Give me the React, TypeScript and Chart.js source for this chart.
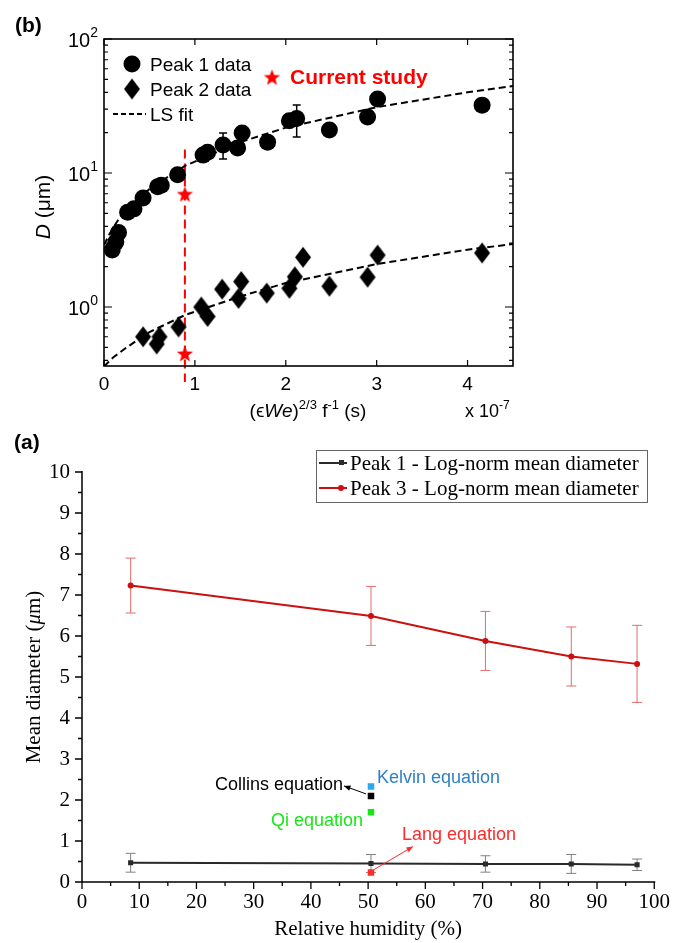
import React, { useEffect, useRef } from 'react';
import { Chart, registerables } from 'chart.js';
Chart.register(...registerables);

// ---------- Panel (b) data ----------
const peak1X = [0.09, 0.13, 0.16, 0.26, 0.33, 0.43, 0.59, 0.63, 0.81, 1.09, 1.14, 1.31, 1.47, 1.52, 1.80, 2.04, 2.12, 2.48, 2.90, 3.01, 4.16];
const peak1D = [2.66, 3.05, 3.6, 5.1, 5.4, 6.5, 7.9, 8.1, 9.7, 13.6, 14.3, 16.2, 15.4, 19.9, 17.0, 24.5, 25.5, 20.9, 26.2, 35.7, 32.1];
const peak1ErrX = [1.31, 2.12];
const peak1ErrLow = [12.7, 18.6];
const peak1ErrHigh = [19.9, 32.2];

const peak2X = [0.43, 0.58, 0.61, 0.82, 1.07, 1.14, 1.30, 1.48, 1.51, 1.79, 2.04, 2.10, 2.19, 2.48, 2.90, 3.01, 4.16];
const peak2D = [0.60, 0.53, 0.60, 0.71, 1.0, 0.85, 1.36, 1.16, 1.55, 1.27, 1.38, 1.68, 2.35, 1.43, 1.67, 2.44, 2.53];

const fit1X = [0, 0.05, 0.1, 0.15, 0.25, 0.5, 0.89, 1.5, 2.0, 3.0, 4.0, 4.5];
const fit1D = [2.9, 3.4, 3.9, 4.4, 5.3, 7.6, 11.3, 17.0, 21.8, 31.0, 40.0, 44.6];
const fit2X = [0, 0.1, 0.25, 0.5, 0.89, 1.5, 2.0, 3.0, 4.0, 4.5];
const fit2D = [0.36, 0.42, 0.5, 0.65, 0.87, 1.2, 1.51, 2.09, 2.68, 2.95];

const studyX = [0.89, 0.89];
const studyD = [7.0, 0.45];
const studyLineX = 0.89;
const studyLineTop = 15;

const xTicksB = [0, 1, 2, 3, 4];
const yMajorB = [1, 10, 100];
const yExpB: Record<number, string> = { 1: '0', 10: '1', 100: '2' };
const logMantissas = [2, 3, 4, 5, 6, 7, 8, 9];
const logDecades = [0.1, 1, 10];

// ---------- Panel (a) data ----------
const rh = [8.5, 50.5, 70.5, 85.5, 97];
const peak1Mean = [0.47, 0.45, 0.44, 0.44, 0.42];
const peak1Err = [0.23, 0.22, 0.2, 0.23, 0.14];
const peak3Mean = [7.23, 6.49, 5.88, 5.5, 5.32];
const peak3Err = [0.67, 0.72, 0.72, 0.72, 0.94];

const eqNames = ['Kelvin equation', 'Collins equation', 'Qi equation', 'Lang equation'];
const eqRH = [50.5, 50.5, 50.5, 50.5];
const eqD = [2.33, 2.1, 1.7, 0.23];

const legendA = ['Peak 1 - Log-norm mean diameter', 'Peak 3 - Log-norm mean diameter'];

// ---------- styles ----------
const SANS = "'Liberation Sans', Arial, 'DejaVu Sans', sans-serif";
const SERIF = "'Liberation Serif', 'Times New Roman', serif";
const eqMarkerColors = ['#2ea6f0', '#000000', '#19e619', '#ff2a2a'];
const eqTextColors = ['#2f7fc4', '#000000', '#19e619', '#ff2a2a'];
const BLACK_LINE = '#2a2a2a';
const RED_LINE = '#cc1010';

type Seg = { t: string; size: number; italic?: boolean; bold?: boolean; dy?: number; color?: string };

function segFont(s: Seg, family: string) {
  return `${s.italic ? 'italic ' : ''}${s.bold ? 'bold ' : ''}${s.size}px ${family}`;
}

function drawRich(ctx: CanvasRenderingContext2D, segs: Seg[], x: number, y: number, align: 'left' | 'center' | 'right', family: string) {
  ctx.save();
  ctx.textBaseline = 'alphabetic';
  ctx.textAlign = 'left';
  let total = 0;
  segs.forEach((s) => {
    ctx.font = segFont(s, family);
    total += ctx.measureText(s.t).width;
  });
  let cx = align === 'center' ? x - total / 2 : align === 'right' ? x - total : x;
  segs.forEach((s) => {
    ctx.font = segFont(s, family);
    ctx.fillStyle = s.color || '#000';
    ctx.fillText(s.t, cx, y + (s.dy || 0));
    cx += ctx.measureText(s.t).width;
  });
  ctx.restore();
}

function makeStar(color: string, outer: number, inner: number) {
  const c = document.createElement('canvas');
  const s = Math.ceil(outer * 2 + 2);
  c.width = s;
  c.height = s;
  const g = c.getContext('2d')!;
  g.fillStyle = color;
  g.beginPath();
  for (let i = 0; i < 10; i++) {
    const r = i % 2 === 0 ? outer : inner;
    const a = -Math.PI / 2 + (i * Math.PI) / 5;
    const px = s / 2 + r * Math.cos(a);
    const py = s / 2 + 1 + r * Math.sin(a);
    if (i === 0) g.moveTo(px, py);
    else g.lineTo(px, py);
  }
  g.closePath();
  g.fill();
  return c;
}

function makeDiamond(w: number, h: number, color: string) {
  const c = document.createElement('canvas');
  c.width = w + 2;
  c.height = h + 2;
  const g = c.getContext('2d')!;
  g.fillStyle = color;
  g.beginPath();
  g.moveTo((w + 2) / 2, 1);
  g.lineTo(w + 1, (h + 2) / 2);
  g.lineTo((w + 2) / 2, h + 1);
  g.lineTo(1, (h + 2) / 2);
  g.closePath();
  g.fill();
  return c;
}

function arrow(ctx: CanvasRenderingContext2D, x1: number, y1: number, x2: number, y2: number, color: string, head: number) {
  ctx.save();
  ctx.strokeStyle = color;
  ctx.fillStyle = color;
  ctx.lineWidth = 1;
  ctx.beginPath();
  ctx.moveTo(x1, y1);
  ctx.lineTo(x2, y2);
  ctx.stroke();
  const a = Math.atan2(y2 - y1, x2 - x1);
  ctx.beginPath();
  ctx.moveTo(x2, y2);
  ctx.lineTo(x2 - head * Math.cos(a - 0.4), y2 - head * Math.sin(a - 0.4));
  ctx.lineTo(x2 - head * Math.cos(a + 0.4), y2 - head * Math.sin(a + 0.4));
  ctx.closePath();
  ctx.fill();
  ctx.restore();
}

export default function App() {
  const topRef = useRef<HTMLCanvasElement>(null);
  const botRef = useRef<HTMLCanvasElement>(null);

  useEffect(() => {
    const star = makeStar('#ff0000', 8.5, 3.6);
    const diamond = makeDiamond(16, 21, '#000');

    const topPlugin = {
      id: 'topDecor',
      beforeDatasetsDraw(chart: any) {
        const { ctx, chartArea, scales } = chart;
        const px = scales.x.getPixelForValue(studyLineX);
        ctx.save();
        ctx.strokeStyle = '#ff0000';
        ctx.lineWidth = 2;
        ctx.setLineDash([9, 5]);
        ctx.beginPath();
        ctx.moveTo(px, scales.y.getPixelForValue(studyLineTop));
        ctx.lineTo(px, chartArea.bottom + 16);
        ctx.stroke();
        ctx.restore();
      },
      afterDatasetsDraw(chart: any) {
        const { ctx, scales } = chart;
        ctx.save();
        ctx.strokeStyle = '#000';
        ctx.lineWidth = 1.5;
        peak1ErrX.forEach((xv, i) => {
          const px = scales.x.getPixelForValue(xv);
          const yt = scales.y.getPixelForValue(peak1ErrHigh[i]);
          const yb = scales.y.getPixelForValue(peak1ErrLow[i]);
          ctx.beginPath();
          ctx.moveTo(px, yt);
          ctx.lineTo(px, yb);
          ctx.moveTo(px - 4, yt);
          ctx.lineTo(px + 4, yt);
          ctx.moveTo(px - 4, yb);
          ctx.lineTo(px + 4, yb);
          ctx.stroke();
        });
        ctx.restore();
      },
      afterDraw(chart: any) {
        const { ctx, chartArea, scales } = chart;
        const { left, right, top, bottom } = chartArea;
        ctx.save();
        ctx.strokeStyle = '#000';
        ctx.lineWidth = 1.6;
        ctx.strokeRect(left, top, right - left, bottom - top);
        ctx.lineWidth = 1.2;
        ctx.beginPath();
        xTicksB.forEach((v) => {
          const px = scales.x.getPixelForValue(v);
          ctx.moveTo(px, bottom);
          ctx.lineTo(px, bottom - 6);
          ctx.moveTo(px, top);
          ctx.lineTo(px, top + 6);
        });
        const ymin = scales.y.min;
        const ymax = scales.y.max;
        yMajorB.forEach((v) => {
          const py = scales.y.getPixelForValue(v);
          ctx.moveTo(left, py);
          ctx.lineTo(left + 8, py);
          ctx.moveTo(right, py);
          ctx.lineTo(right - 8, py);
        });
        logDecades.forEach((d) => {
          logMantissas.forEach((m) => {
            const v = d * m;
            if (v < ymin || v > ymax) return;
            const py = scales.y.getPixelForValue(v);
            ctx.moveTo(left, py);
            ctx.lineTo(left + 4, py);
            ctx.moveTo(right, py);
            ctx.lineTo(right - 4, py);
          });
        });
        ctx.stroke();
        ctx.restore();

        // y tick labels with superscripts
        yMajorB.forEach((v) => {
          const py = scales.y.getPixelForValue(v);
          drawRich(ctx, [{ t: '10', size: 20 }, { t: yExpB[v], size: 14, dy: -10 }], left - 6, py + 8, 'right', SANS);
        });

        // legend
        ctx.save();
        ctx.fillStyle = '#000';
        ctx.beginPath();
        ctx.arc(132, 64, 8.5, 0, Math.PI * 2);
        ctx.fill();
        ctx.drawImage(diamond, 132 - diamond.width / 2, 89 - diamond.height / 2);
        ctx.strokeStyle = '#000';
        ctx.lineWidth = 2;
        ctx.setLineDash([5, 3]);
        ctx.beginPath();
        ctx.moveTo(113, 114);
        ctx.lineTo(146, 114);
        ctx.stroke();
        ctx.setLineDash([]);
        ctx.drawImage(star, 272 - star.width / 2, 77 - star.height / 2);
        ctx.restore();
        drawRich(ctx, [{ t: 'Peak 1 data', size: 19 }], 150, 71, 'left', SANS);
        drawRich(ctx, [{ t: 'Peak 2 data', size: 19 }], 150, 96, 'left', SANS);
        drawRich(ctx, [{ t: 'LS fit', size: 19 }], 150, 121, 'left', SANS);
        drawRich(ctx, [{ t: 'Current study', size: 21, bold: true, color: '#ff0000' }], 290, 84, 'left', SANS);

        // panel label
        drawRich(ctx, [{ t: '(b)', size: 21, bold: true }], 15, 32, 'left', SANS);

        // axis titles
        drawRich(
          ctx,
          [
            { t: '(ϵ', size: 19 },
            { t: 'We', size: 19, italic: true },
            { t: ')', size: 19 },
            { t: '2/3', size: 13, dy: -8 },
            { t: ' f', size: 19 },
            { t: '-1', size: 13, dy: -8 },
            { t: ' (s)', size: 19 },
          ],
          308,
          417,
          'center',
          SANS
        );
        drawRich(ctx, [{ t: 'x 10', size: 18 }, { t: '-7', size: 12, dy: -8 }], 465, 417, 'left', SANS);
        ctx.save();
        ctx.translate(50, 207);
        ctx.rotate(-Math.PI / 2);
        drawRich(ctx, [{ t: 'D', size: 21, italic: true }, { t: ' (μm)', size: 21 }], 0, 0, 'center', SANS);
        ctx.restore();
      },
    };

    const c1 = new Chart(topRef.current!, {
      type: 'scatter',
      data: {
        datasets: [
          {
            label: 'LS fit (peak 1)',
            data: fit1X.map((x, i) => ({ x, y: fit1D[i] })),
            showLine: true,
            borderColor: '#000',
            borderWidth: 2,
            borderDash: [7, 4],
            pointRadius: 0,
            fill: false,
          },
          {
            label: 'LS fit (peak 2)',
            data: fit2X.map((x, i) => ({ x, y: fit2D[i] })),
            showLine: true,
            borderColor: '#000',
            borderWidth: 2,
            borderDash: [7, 4],
            pointRadius: 0,
            fill: false,
          },
          {
            label: 'Peak 1 data',
            data: peak1X.map((x, i) => ({ x, y: peak1D[i] })),
            pointStyle: 'circle',
            pointRadius: 8.5,
            backgroundColor: '#000',
            borderColor: '#000',
            borderWidth: 0,
            clip: false,
          },
          {
            label: 'Peak 2 data',
            data: peak2X.map((x, i) => ({ x, y: peak2D[i] })),
            pointStyle: diamond as any,
            pointRadius: 9,
            backgroundColor: '#000',
            clip: false,
          },
          {
            label: 'Current study',
            data: studyX.map((x, i) => ({ x, y: studyD[i] })),
            pointStyle: star as any,
            pointRadius: 9,
            backgroundColor: '#f00',
            clip: false,
          },
        ],
      },
      options: {
        responsive: false,
        animation: false,
        devicePixelRatio: 1,
        events: [],
        layout: { padding: { left: 0, right: 165, top: 39, bottom: 0 } },
        plugins: { legend: { display: false }, tooltip: { enabled: false } },
        scales: {
          x: {
            type: 'linear',
            min: 0,
            max: 4.5,
            afterBuildTicks: (s: any) => {
              s.ticks = xTicksB.map((v) => ({ value: v }));
            },
            afterFit: (s: any) => {
              s.height = 64;
            },
            grid: { display: false, drawTicks: false },
            border: { display: false },
            ticks: { color: '#000', font: { family: SANS, size: 19 }, padding: 7, maxRotation: 0, autoSkip: false },
          },
          y: {
            type: 'logarithmic',
            min: 0.363,
            max: 100,
            afterBuildTicks: (s: any) => {
              s.ticks = yMajorB.map((v) => ({ value: v, major: true }));
            },
            afterFit: (s: any) => {
              s.width = 104;
            },
            grid: { display: false, drawTicks: false },
            border: { display: false },
            ticks: { display: false },
          },
        },
      } as any,
      plugins: [topPlugin],
    });

    const botPlugin = {
      id: 'botDecor',
      beforeDatasetsDraw(chart: any) {
        const { ctx, scales } = chart;
        const bars = (means: number[], errs: number[], color: string) => {
          ctx.save();
          ctx.strokeStyle = color;
          ctx.lineWidth = 1;
          rh.forEach((xv, i) => {
            const px = scales.x.getPixelForValue(xv);
            const yt = scales.y.getPixelForValue(means[i] + errs[i]);
            const yb = scales.y.getPixelForValue(means[i] - errs[i]);
            ctx.beginPath();
            ctx.moveTo(px, yt);
            ctx.lineTo(px, yb);
            ctx.moveTo(px - 5, yt);
            ctx.lineTo(px + 5, yt);
            ctx.moveTo(px - 5, yb);
            ctx.lineTo(px + 5, yb);
            ctx.stroke();
          });
          ctx.restore();
        };
        bars(peak1Mean, peak1Err, '#808080');
        bars(peak3Mean, peak3Err, '#e86a6a');
      },
      afterDraw(chart: any) {
        const { ctx, chartArea, scales } = chart;
        const { left, right, top, bottom } = chartArea;
        ctx.save();
        ctx.strokeStyle = '#000';
        ctx.lineWidth = 1.5;
        ctx.beginPath();
        ctx.moveTo(left, top - 1);
        ctx.lineTo(left, bottom);
        ctx.lineTo(right + 1, bottom);
        ctx.stroke();
        ctx.lineWidth = 1.3;
        ctx.beginPath();
        for (let v = 0; v <= 10; v += 1) {
          const py = scales.y.getPixelForValue(v);
          ctx.moveTo(left, py);
          ctx.lineTo(left - 7, py);
          if (v < 10) {
            const pm = scales.y.getPixelForValue(v + 0.5);
            ctx.moveTo(left, pm);
            ctx.lineTo(left - 4, pm);
          }
        }
        for (let v = 0; v <= 100; v += 10) {
          const px = scales.x.getPixelForValue(v);
          ctx.moveTo(px, bottom);
          ctx.lineTo(px, bottom + 7);
          if (v < 100) {
            const pm = scales.x.getPixelForValue(v + 5);
            ctx.moveTo(pm, bottom);
            ctx.lineTo(pm, bottom + 4);
          }
        }
        ctx.stroke();

        // legend box
        ctx.strokeStyle = '#666';
        ctx.lineWidth = 1;
        ctx.strokeRect(316.5, 20.5, 331, 52);
        ctx.lineWidth = 2;
        ctx.strokeStyle = BLACK_LINE;
        ctx.beginPath();
        ctx.moveTo(319, 33);
        ctx.lineTo(347, 33);
        ctx.stroke();
        ctx.fillStyle = BLACK_LINE;
        ctx.fillRect(339, 30, 5, 5);
        ctx.strokeStyle = RED_LINE;
        ctx.beginPath();
        ctx.moveTo(319, 58);
        ctx.lineTo(347, 58);
        ctx.stroke();
        ctx.fillStyle = RED_LINE;
        ctx.beginPath();
        ctx.arc(341, 58, 3, 0, Math.PI * 2);
        ctx.fill();
        ctx.restore();
        drawRich(ctx, [{ t: legendA[0], size: 21 }], 350, 40, 'left', SERIF);
        drawRich(ctx, [{ t: legendA[1], size: 21 }], 350, 65, 'left', SERIF);

        // equation annotations
        const ex = (i: number) => scales.x.getPixelForValue(eqRH[i]);
        const ey = (i: number) => scales.y.getPixelForValue(eqD[i]);
        drawRich(ctx, [{ t: eqNames[0], size: 18, color: eqTextColors[0] }], ex(0) + 6, ey(0) - 3, 'left', SANS);
        drawRich(ctx, [{ t: eqNames[1], size: 18, color: eqTextColors[1] }], ex(1) - 28, ey(1) - 6, 'right', SANS);
        arrow(ctx, ex(1) - 5, ey(1) - 2, ex(1) - 27, ey(1) - 10, '#000', 7);
        drawRich(ctx, [{ t: eqNames[2], size: 18, color: eqTextColors[2] }], ex(2) - 8, ey(2) + 14, 'right', SANS);
        drawRich(ctx, [{ t: eqNames[3], size: 18, color: eqTextColors[3] }], ex(3) + 31, ey(3) - 33, 'left', SANS);
        arrow(ctx, ex(3) + 3, ey(3) - 3, ex(3) + 42, ey(3) - 26, '#ff2a2a', 7);

        // panel label and titles
        drawRich(ctx, [{ t: '(a)', size: 21, bold: true }], 14, 19, 'left', SANS);
        drawRich(ctx, [{ t: 'Relative humidity (%)', size: 21 }], (left + right) / 2, 505, 'center', SERIF);
        ctx.save();
        ctx.translate(40, 247);
        ctx.rotate(-Math.PI / 2);
        drawRich(ctx, [{ t: 'Mean diameter (', size: 21 }, { t: 'μ', size: 21, italic: true }, { t: 'm)', size: 21 }], 0, 0, 'center', SERIF);
        ctx.restore();
      },
    };

    const c2 = new Chart(botRef.current!, {
      type: 'scatter',
      data: {
        datasets: [
          {
            label: legendA[0],
            data: rh.map((x, i) => ({ x, y: peak1Mean[i] })),
            showLine: true,
            borderColor: BLACK_LINE,
            backgroundColor: BLACK_LINE,
            borderWidth: 2,
            pointStyle: 'rect',
            pointRadius: 3.6,
            pointBorderWidth: 0,
          },
          {
            label: legendA[1],
            data: rh.map((x, i) => ({ x, y: peak3Mean[i] })),
            showLine: true,
            borderColor: RED_LINE,
            backgroundColor: RED_LINE,
            borderWidth: 2,
            pointStyle: 'circle',
            pointRadius: 3,
            pointBorderWidth: 0,
          },
          ...eqNames.map((name, i) => ({
            label: name,
            data: [{ x: eqRH[i], y: eqD[i] }],
            pointStyle: 'rect',
            pointRadius: 4.6,
            backgroundColor: eqMarkerColors[i],
            borderColor: eqMarkerColors[i],
            pointBorderWidth: 0,
          })),
        ],
      },
      options: {
        responsive: false,
        animation: false,
        devicePixelRatio: 1,
        events: [],
        layout: { padding: { left: 0, right: 23, top: 42, bottom: 0 } },
        plugins: { legend: { display: false }, tooltip: { enabled: false } },
        scales: {
          x: {
            type: 'linear',
            min: 0,
            max: 100,
            afterFit: (s: any) => {
              s.height = 61;
            },
            grid: { display: false, drawTicks: false },
            border: { display: false },
            ticks: { stepSize: 10, color: '#000', font: { family: SERIF, size: 21 }, padding: 8, maxRotation: 0, autoSkip: false },
          },
          y: {
            type: 'linear',
            min: 0,
            max: 10,
            afterFit: (s: any) => {
              s.width = 82;
            },
            grid: { display: false, drawTicks: false },
            border: { display: false },
            ticks: { stepSize: 1, color: '#000', font: { family: SERIF, size: 21 }, padding: 12, autoSkip: false },
          },
        },
      } as any,
      plugins: [botPlugin],
    });

    return () => {
      c1.destroy();
      c2.destroy();
    };
  }, []);

  return (
    <div style={{ position: 'absolute', left: 0, top: 0, width: 678, height: 943, background: '#fff' }}>
      <canvas ref={topRef} width={678} height={430} style={{ position: 'absolute', left: 0, top: 0, display: 'block' }} />
      <canvas ref={botRef} width={678} height={513} style={{ position: 'absolute', left: 0, top: 430, display: 'block' }} />
    </div>
  );
}
